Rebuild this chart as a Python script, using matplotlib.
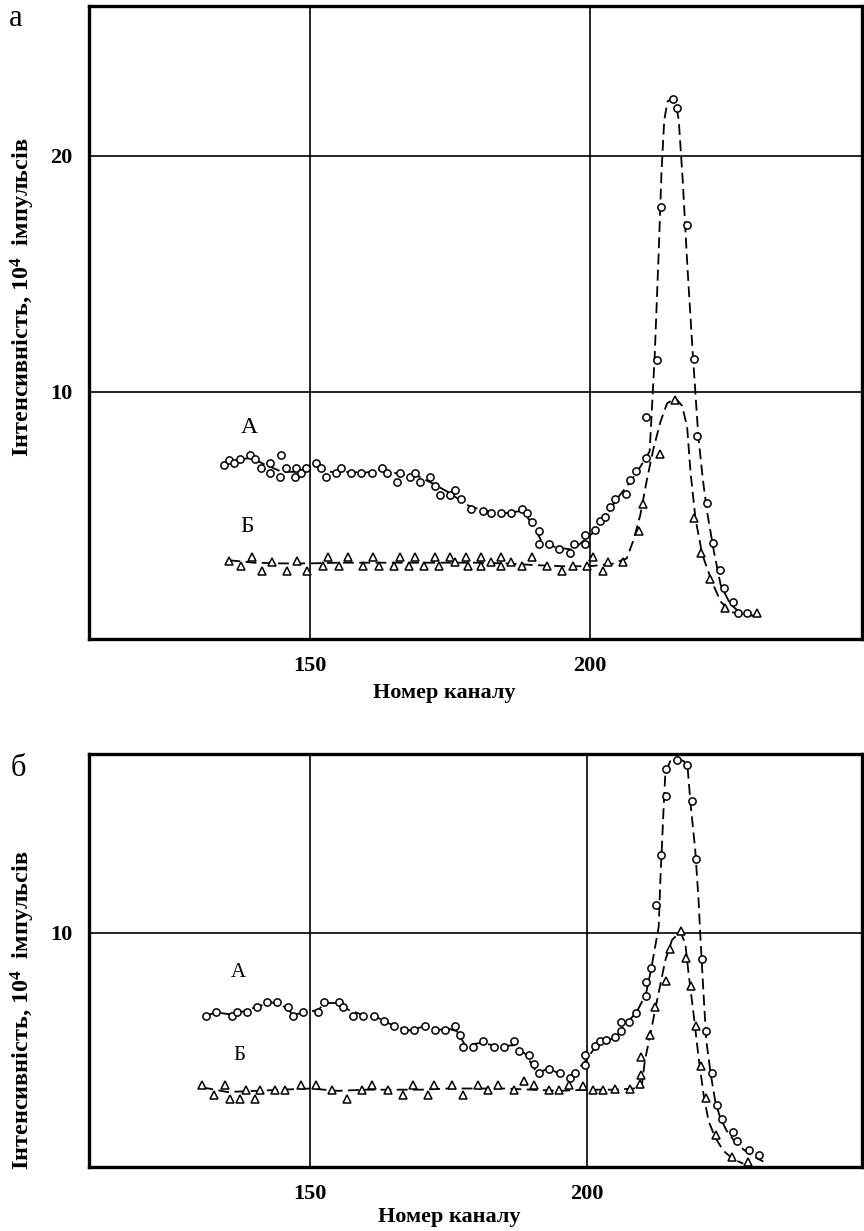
import matplotlib
matplotlib.use("Agg")
import matplotlib.pyplot as plt

plt.rcParams['font.family'] = ['Liberation Serif', 'DejaVu Serif']
plt.rcParams['mathtext.fontset'] = 'custom'
plt.rcParams['mathtext.rm'] = 'Liberation Serif:bold'
plt.rcParams['mathtext.it'] = 'Liberation Serif:bold'
plt.rcParams['mathtext.bf'] = 'Liberation Serif:bold'

# panel a, curve A (circles)
a_circ_ch = [134.6, 135.6, 136.5, 137.5, 139.3, 140.2, 141.2, 142.8, 142.8, 144.6,
             144.8, 145.7, 147.5, 147.4, 148.4, 149.3, 151.1, 152.0, 152.9, 154.7,
             155.6, 157.4, 159.2, 161.1, 162.9, 163.8, 165.6, 166.0, 167.8, 168.8,
             169.6, 171.5, 172.4, 173.3, 175.0, 176.0, 177.0, 178.7, 181.0, 182.3,
             184.2, 186.0, 187.8, 188.8, 189.6, 190.9, 190.9, 192.7, 194.5, 196.4,
             197.2, 199.1, 199.1, 200.9, 201.8, 202.7, 203.6, 204.5, 206.4, 207.2,
             208.2, 210.1, 210.1, 212.0, 212.7, 214.9, 215.6, 217.3, 218.6, 219.2,
             221.0, 222.1, 223.2, 223.9, 225.6, 226.5, 228.1]
a_circ_val = [6.88, 7.11, 6.96, 7.13, 7.33, 7.13, 6.77, 6.96, 6.57, 6.37,
              7.33, 6.75, 6.75, 6.37, 6.57, 6.75, 6.96, 6.75, 6.37, 6.54,
              6.75, 6.57, 6.57, 6.57, 6.75, 6.57, 6.19, 6.57, 6.37, 6.57,
              6.19, 6.37, 5.98, 5.61, 5.61, 5.81, 5.44, 5.04, 4.93, 4.85,
              4.85, 4.85, 5.04, 4.85, 4.48, 4.11, 3.55, 3.55, 3.35, 3.18,
              3.55, 3.55, 3.93, 4.12, 4.50, 4.70, 5.09, 5.47, 5.66, 6.25,
              6.62, 7.20, 8.92, 11.35, 17.83, 22.42, 22.02, 17.08, 11.37, 8.14,
              5.26, 3.57, 2.42, 1.69, 1.08, 0.63, 0.60]

# panel a, curve Б (triangles)
a_tri_ch = [135.6, 137.7, 139.6, 141.4, 143.2, 145.9, 147.7, 149.5, 152.4, 153.2,
            155.1, 156.8, 159.4, 161.3, 162.4, 165.0, 166.0, 167.7, 168.7, 170.4,
            172.3, 173.1, 175.0, 176.0, 177.9, 178.3, 180.5, 180.5, 182.3, 184.2,
            184.2, 186.0, 187.8, 189.6, 192.3, 195.1, 197.0, 199.5, 200.6, 202.4,
            203.2, 205.9, 208.8, 209.6, 212.5, 215.2, 218.7, 219.8, 221.4, 224.1,
            229.9]
a_tri_val = [2.84, 2.59, 2.98, 2.39, 2.78, 2.39, 2.81, 2.39, 2.59, 2.98,
             2.59, 2.98, 2.59, 2.98, 2.59, 2.59, 2.98, 2.59, 2.98, 2.59,
             2.98, 2.59, 2.98, 2.78, 2.98, 2.59, 2.98, 2.59, 2.78, 2.98,
             2.59, 2.78, 2.59, 2.98, 2.59, 2.39, 2.59, 2.59, 2.98, 2.39,
             2.78, 2.78, 4.11, 5.24, 7.37, 9.65, 4.65, 3.14, 2.05, 0.81,
             0.60]

# panel a, dashed curves
a_fitA_ch = [134.6, 137, 139.5, 142, 145, 148, 151, 153, 156, 160,
             163, 166, 169, 172, 175, 178, 181, 185, 188, 190,
             191.5, 194, 197, 199, 201, 203, 205, 207, 209, 210.7,
             211.6, 212.3, 212.8, 213.3, 213.9, 214.6, 215.4, 215.9, 216.6, 217.4,
             218.3, 219.4, 220.2, 220.9, 222.2, 223.4, 225.1, 227.0, 229.3]
a_fitA_val = [6.9, 7.1, 7.2, 6.9, 6.6, 6.6, 6.9, 6.6, 6.6, 6.57,
              6.7, 6.5, 6.45, 6.1, 5.7, 5.2, 4.95, 4.85, 4.95, 4.3,
              3.6, 3.4, 3.3, 3.7, 4.1, 4.8, 5.5, 6.1, 6.8, 7.47,
              11.5, 15.8, 19.2, 21.5, 22.3, 22.4, 22.2, 21.5, 19.0, 15.5,
              12.0, 8.1, 6.3, 5.0, 3.2, 1.8, 1.0, 0.6, 0.5]
a_fitB_ch = [135.6, 140, 145, 150, 155, 160, 165, 170, 175, 180,
             185, 190, 195, 200, 204, 206.6, 207.8, 209.0, 210.2, 211.4,
             212.6, 213.8, 215.3, 216.5, 217.4, 218.0, 218.9, 220.1, 221.9, 223.4,
             225.1, 229.3]
a_fitB_val = [2.85, 2.75, 2.72, 2.72, 2.75, 2.75, 2.75, 2.75, 2.75, 2.75,
              2.72, 2.65, 2.6, 2.6, 2.7, 2.93, 3.7, 4.74, 6.26, 7.6,
              8.7, 9.5, 9.73, 9.4, 8.5, 6.6, 4.6, 3.1, 1.9, 1.1,
              0.66, 0.5]

# panel б, curve A (circles)
b_circ_ch = [131.1, 132.9, 135.8, 136.7, 138.5, 140.4, 142.2, 144.0, 145.9, 146.9,
             148.7, 151.4, 152.4, 155.2, 156.0, 157.8, 159.6, 161.5, 163.3, 165.1,
             167.0, 168.8, 170.7, 172.5, 174.4, 176.2, 177.1, 177.7, 179.5, 181.3,
             183.2, 185.0, 186.8, 187.7, 189.5, 190.4, 191.4, 193.2, 195.1, 196.9,
             197.9, 199.7, 199.7, 201.4, 202.4, 203.4, 205.1, 206.1, 206.2, 207.6,
             208.9, 210.7, 210.7, 211.6, 212.5, 213.4, 214.3, 214.3, 216.3, 218.1,
             219.0, 219.8, 220.9, 221.6, 222.7, 223.5, 224.5, 226.5, 227.2, 229.3,
             231.1]
b_circ_val = [6.43, 6.63, 6.43, 6.63, 6.63, 6.83, 7.03, 7.03, 6.83, 6.43,
              6.63, 6.63, 7.03, 7.03, 6.83, 6.43, 6.43, 6.43, 6.23, 6.03,
              5.83, 5.83, 6.03, 5.83, 5.83, 6.03, 5.63, 5.14, 5.14, 5.37,
              5.14, 5.14, 5.37, 4.97, 4.77, 4.40, 4.00, 4.20, 4.00, 3.80,
              4.00, 4.37, 4.77, 5.17, 5.37, 5.40, 5.57, 5.80, 6.17, 6.20,
              6.57, 7.31, 7.91, 8.49, 11.2, 13.31, 15.83, 16.97, 17.37, 17.17,
              15.63, 13.14, 8.89, 5.80, 4.00, 2.66, 2.06, 1.51, 1.11, 0.74,
              0.51]

# panel б, curve Б (triangles)
b_tri_ch = [130.5, 132.6, 134.6, 135.5, 137.3, 138.3, 140.1, 141.0, 143.7, 145.5,
            148.3, 151.1, 153.9, 156.6, 159.4, 161.2, 164.0, 166.8, 168.6, 171.3,
            172.3, 175.7, 177.6, 180.4, 182.2, 184.0, 186.8, 188.6, 190.4, 193.2,
            195.0, 196.8, 199.4, 201.2, 203.0, 205.1, 207.8, 209.6, 209.8, 209.8,
            211.5, 212.4, 214.3, 215.1, 217.0, 218.0, 218.9, 219.8, 220.6, 221.6,
            223.4, 226.2, 229.1]
b_tri_val = [3.49, 3.09, 3.49, 2.89, 2.89, 3.29, 2.89, 3.29, 3.29, 3.29,
             3.49, 3.49, 3.29, 2.89, 3.29, 3.49, 3.29, 3.09, 3.49, 3.09,
             3.49, 3.49, 3.09, 3.49, 3.29, 3.49, 3.29, 3.69, 3.49, 3.29,
             3.29, 3.49, 3.46, 3.29, 3.29, 3.31, 3.31, 3.54, 3.91, 4.69,
             5.63, 6.83, 7.94, 9.31, 10.09, 8.91, 7.74, 6.0, 4.29, 2.94,
             1.37, 0.43, 0.23]

# panel б, dashed curves
b_fitA_ch = [131, 133, 136, 138, 140.5, 143, 145, 147, 149, 151.5,
             152.5, 155, 157, 160, 162, 164, 166, 168, 170.5, 173,
             175, 176.5, 178, 181, 184, 187, 189, 191, 193, 195,
             197, 199.5, 201.5, 203.5, 205.5, 207, 209, 210.7, 211.6, 213.0,
             213.3, 213.9, 214.2, 215.1, 216.3, 217.5, 218.2, 218.8, 219.6, 220.2,
             220.5, 221.1, 221.6, 222.4, 223.2, 224.1, 225.3, 227.1, 229.5, 231.9]
b_fitA_val = [6.45, 6.6, 6.5, 6.65, 6.85, 7.03, 6.9, 6.5, 6.6, 6.7,
              7.0, 7.0, 6.7, 6.45, 6.4, 6.15, 5.95, 5.83, 6.0, 5.85,
              5.9, 5.8, 5.2, 5.3, 5.15, 5.2, 4.8, 4.0, 4.2, 4.0,
              3.85, 4.45, 5.1, 5.35, 5.6, 6.1, 6.6, 7.4, 8.4, 10.26,
              12.26, 15.4, 16.83, 17.33, 17.43, 17.33, 17.11, 15.4, 13.54, 11.4,
              9.97, 7.4, 5.4, 3.97, 2.83, 2.11, 1.54, 0.97, 0.54, 0.23]
b_fitB_ch = [130.5, 135, 140, 145, 150, 155, 160, 165, 170, 175,
             180, 185, 190, 195, 200, 205, 208.5, 209.9, 210.5, 211.5,
             212.7, 214.2, 215.4, 216.9, 217.8, 218.4, 219.3, 220.2, 221.1, 222.0,
             223.2, 224.7, 226.5, 228.3]
b_fitB_val = [3.4, 3.2, 3.25, 3.3, 3.35, 3.25, 3.3, 3.3, 3.3, 3.35,
              3.35, 3.35, 3.3, 3.25, 3.3, 3.3, 3.35, 3.4, 4.54, 5.69,
              7.11, 8.83, 9.69, 10.04, 9.54, 8.26, 6.54, 4.69, 3.11, 1.97,
              1.26, 0.69, 0.33, 0.14]

ylabel_text = "Інтенсивність, 10$^4$  імпульсів"


def draw_panel(ax, circ_ch, circ_val, tri_ch, tri_val, fitA_ch, fitA_val,
               fitB_ch, fitB_val, yticks, label_y):
    ax.plot(fitA_ch, fitA_val, color='black', lw=1.3, ls=(0, (6, 3)), zorder=2)
    ax.plot(fitB_ch, fitB_val, color='black', lw=1.3, ls=(0, (6, 3)), zorder=2)
    ax.plot(circ_ch, circ_val, ls='none', marker='o', ms=5.2, mfc='white',
            mec='black', mew=1.1, zorder=3)
    ax.plot(tri_ch, tri_val, ls='none', marker='^', ms=6, mfc='white',
            mec='black', mew=1.1, zorder=3)

    ax.set_xticks([150, 200])
    ax.set_yticks(yticks)
    ax.grid(True, color='black', lw=1.2)
    ax.set_axisbelow(True)
    ax.tick_params(length=0, labelsize=16, pad=12)
    for t in ax.get_xticklabels() + ax.get_yticklabels():
        t.set_fontweight('bold')
    for s in ax.spines.values():
        s.set_linewidth(2.4)

    ax.set_xlabel("Номер каналу", fontsize=16, fontweight='bold', va='center')
    ax.set_ylabel(ylabel_text, fontsize=17.5, fontweight='bold', va='center')
    ax.yaxis.set_label_coords(-0.085, label_y)
    return ax


fig = plt.figure(figsize=(8.64, 12.31), dpi=100)

ax1 = fig.add_axes([0.103, 0.481, 0.895, 0.514])
draw_panel(ax1, a_circ_ch, a_circ_val, a_tri_ch, a_tri_val, a_fitA_ch, a_fitA_val,
           a_fitB_ch, a_fitB_val, [10, 20], 0.54)
ax1.set_xlim(110.5, 248.7)
ax1.set_ylim(-0.48, 26.34)
ax1.xaxis.set_label_coords(0.46, -0.085)
ax1.text(139.1, 8.5, "А", fontsize=17, ha='center', va='center')
ax1.text(138.7, 4.27, "Б", fontsize=17, ha='center', va='center')

ax2 = fig.add_axes([0.103, 0.052, 0.895, 0.3355])
draw_panel(ax2, b_circ_ch, b_circ_val, b_tri_ch, b_tri_val, b_fitA_ch, b_fitA_val,
           b_fitB_ch, b_fitB_val, [10], 0.38)
ax2.set_xlim(110.0, 249.8)
ax2.set_ylim(0, 17.63)
ax2.xaxis.set_label_coords(0.466, -0.121)
ax2.text(137.0, 8.32, "А", fontsize=15, ha='center', va='center')
ax2.text(137.2, 4.76, "Б", fontsize=15, ha='center', va='center')

fig.text(16 / 864, 1 - 18 / 1231, "а", fontsize=22, ha='center', va='center')
fig.text(18 / 864, 1 - 768 / 1231, "б", fontsize=22, ha='center', va='center')

plt.savefig("out.png", dpi=100)
